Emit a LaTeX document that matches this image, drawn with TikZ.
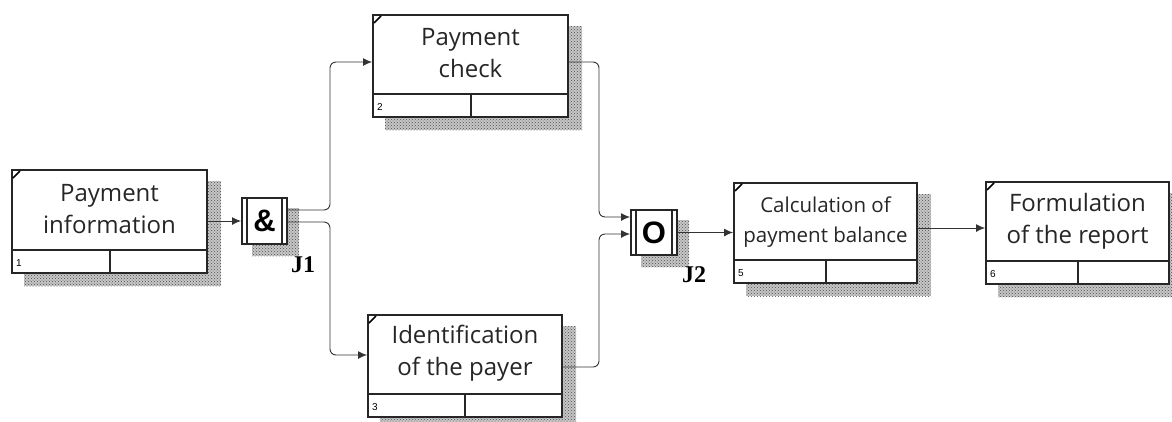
\documentclass[tikz,border=0pt]{standalone}
\usepackage{fontspec}
\setmainfont{Open Sans}
\newfontfamily\lblfont{Liberation Serif}
\newfontfamily\numfont{Liberation Sans}
\newfontfamily\symfont{Liberation Sans}
\usetikzlibrary{arrows.meta,patterns,backgrounds,calc}
\begin{document}
\begin{tikzpicture}[x=1pt,y=-1pt,
  abox/.style={draw=black!85, line width=2pt, fill=white, inner sep=0pt, rectangle},
  divline/.style={draw=black!85, line width=2pt},
  cornermark/.style={draw=black, line width=1.6pt},
  btext/.style={align=center, inner sep=0pt, font=\fontsize{24}{32}\selectfont, text=black!85},
  stext/.style={align=center, inner sep=0pt, font=\fontsize{20.5}{30}\selectfont, text=black!85},
  numtext/.style={anchor=west, inner sep=0pt, font=\numfont\fontsize{10}{10}\selectfont},
  jbox/.style={draw=black!85, line width=2pt, fill=white, inner sep=0pt, rectangle},
  jsym/.style={inner sep=0pt, font=\symfont\bfseries\fontsize{31}{31}\selectfont},
  jlabel/.style={inner sep=0pt, font=\lblfont\bfseries\fontsize{24}{24}\selectfont},
  shadowbase/.style={fill=black!22},
  shadowfill/.style={pattern=crosshatch dots, pattern color=black!70},
  arr/.style={draw=black!80, line width=0.9pt, rounded corners=6pt, -{Latex[length=9pt,width=8pt]}}]
\useasboundingbox (0,0) rectangle (1172,421);

% boxes
\node[abox, minimum width=195pt, minimum height=103pt] (b1) at (109.5,221.5) {};
\node[abox, minimum width=195pt, minimum height=102pt] (b2) at (470.5,66) {};
\node[abox, minimum width=194pt, minimum height=102pt] (b3) at (465,366) {};
\node[abox, minimum width=183pt, minimum height=100pt] (b5) at (825.5,233) {};
\node[abox, minimum width=183pt, minimum height=102pt] (b6) at (1077.5,233) {};

% junctions
\node[jbox, minimum width=45pt, minimum height=46pt] (J1) at (264.5,221) {};
\node[jbox, minimum width=46pt, minimum height=45pt] (J2) at (654,232.5) {};

% shadows
\begin{scope}[on background layer]
  \foreach \n in {b1,b2,b3,b5,b6} {
    \fill[shadowbase] ([shift={(13,12)}]\n.south west) rectangle ([shift={(13,12)}]\n.north east);
    \fill[shadowfill] ([shift={(13,12)}]\n.south west) rectangle ([shift={(13,12)}]\n.north east);
  }
  \foreach \n in {J1,J2} {
    \fill[shadowbase] ([shift={(11,11)}]\n.south west) rectangle ([shift={(11,11)}]\n.north east);
    \fill[shadowfill] ([shift={(11,11)}]\n.south west) rectangle ([shift={(11,11)}]\n.north east);
  }
\end{scope}

% dividers and corner marks
\foreach \n in {b1,b2,b3,b5,b6} {
  \draw[divline] ([shift={(0,-24)}]\n.south west) -- ([shift={(0,-24)}]\n.south east);
  \draw[divline] ([shift={(0,-24)}]\n.south) -- (\n.south);
  \draw[cornermark] ([shift={(2,9)}]\n.north west) -- ([shift={(9,2)}]\n.north west);
}
\foreach \n in {J1,J2} {
  \draw[divline, line width=1.6pt] ([shift={(6,0)}]\n.north west) -- ([shift={(6,0)}]\n.south west);
  \draw[divline, line width=1.6pt] ([shift={(-6,0)}]\n.north east) -- ([shift={(-6,0)}]\n.south east);
}

% texts
\node[btext] (t1) at (109.5,209) {Payment\\information};
\node[btext] (t2) at (470.5,53) {Payment\\check};
\node[btext] (t3) at (465,353) {Identification\\of the payer};
\node[stext] (t5) at (825.5,222) {Calculation of\\payment balance};
\node[btext] (t6) at (1077.5,221) {Formulation\\of the report};

\node[numtext] (n1) at ([shift={(5,-11)}]b1.south west) {1};
\node[numtext] (n2) at ([shift={(5,-11)}]b2.south west) {2};
\node[numtext] (n3) at ([shift={(5,-11)}]b3.south west) {3};
\node[numtext] (n5) at ([shift={(5,-11)}]b5.south west) {5};
\node[numtext] (n6) at ([shift={(5,-11)}]b6.south west) {6};

\node[jsym] (s1) at (J1) {\&};
\node[jsym] (s2) at (J2) {O};
\node[jlabel] (L1) at (303,265) {J1};
\node[jlabel] (L2) at (694,275) {J2};

% connectors
\draw[arr] (J1.west -| b1.east) -- (J1.west);
\draw[arr] ([shift={(0,-11)}]J1.east) -- ++(42,0) |- ([shift={(0,-4)}]b2.west);
\draw[arr] ([shift={(0,1)}]J1.east) -- ++(42,0) |- ([shift={(0,-11)}]b3.west);
\draw[arr] ([shift={(0,-4)}]b2.east) -- ++(30,0) |- ([shift={(0,-15.5)}]J2.west);
\draw[arr] ([shift={(0,1)}]b3.east) -- ++(36,0) |- ([shift={(0,1.5)}]J2.west);
\draw[arr] (J2.east) -- (J2.east -| b5.west);
\draw[arr] ([shift={(0,-5)}]b5.east) -- ([shift={(0,-5)}]b5.east -| b6.west);
\end{tikzpicture}
\end{document}
